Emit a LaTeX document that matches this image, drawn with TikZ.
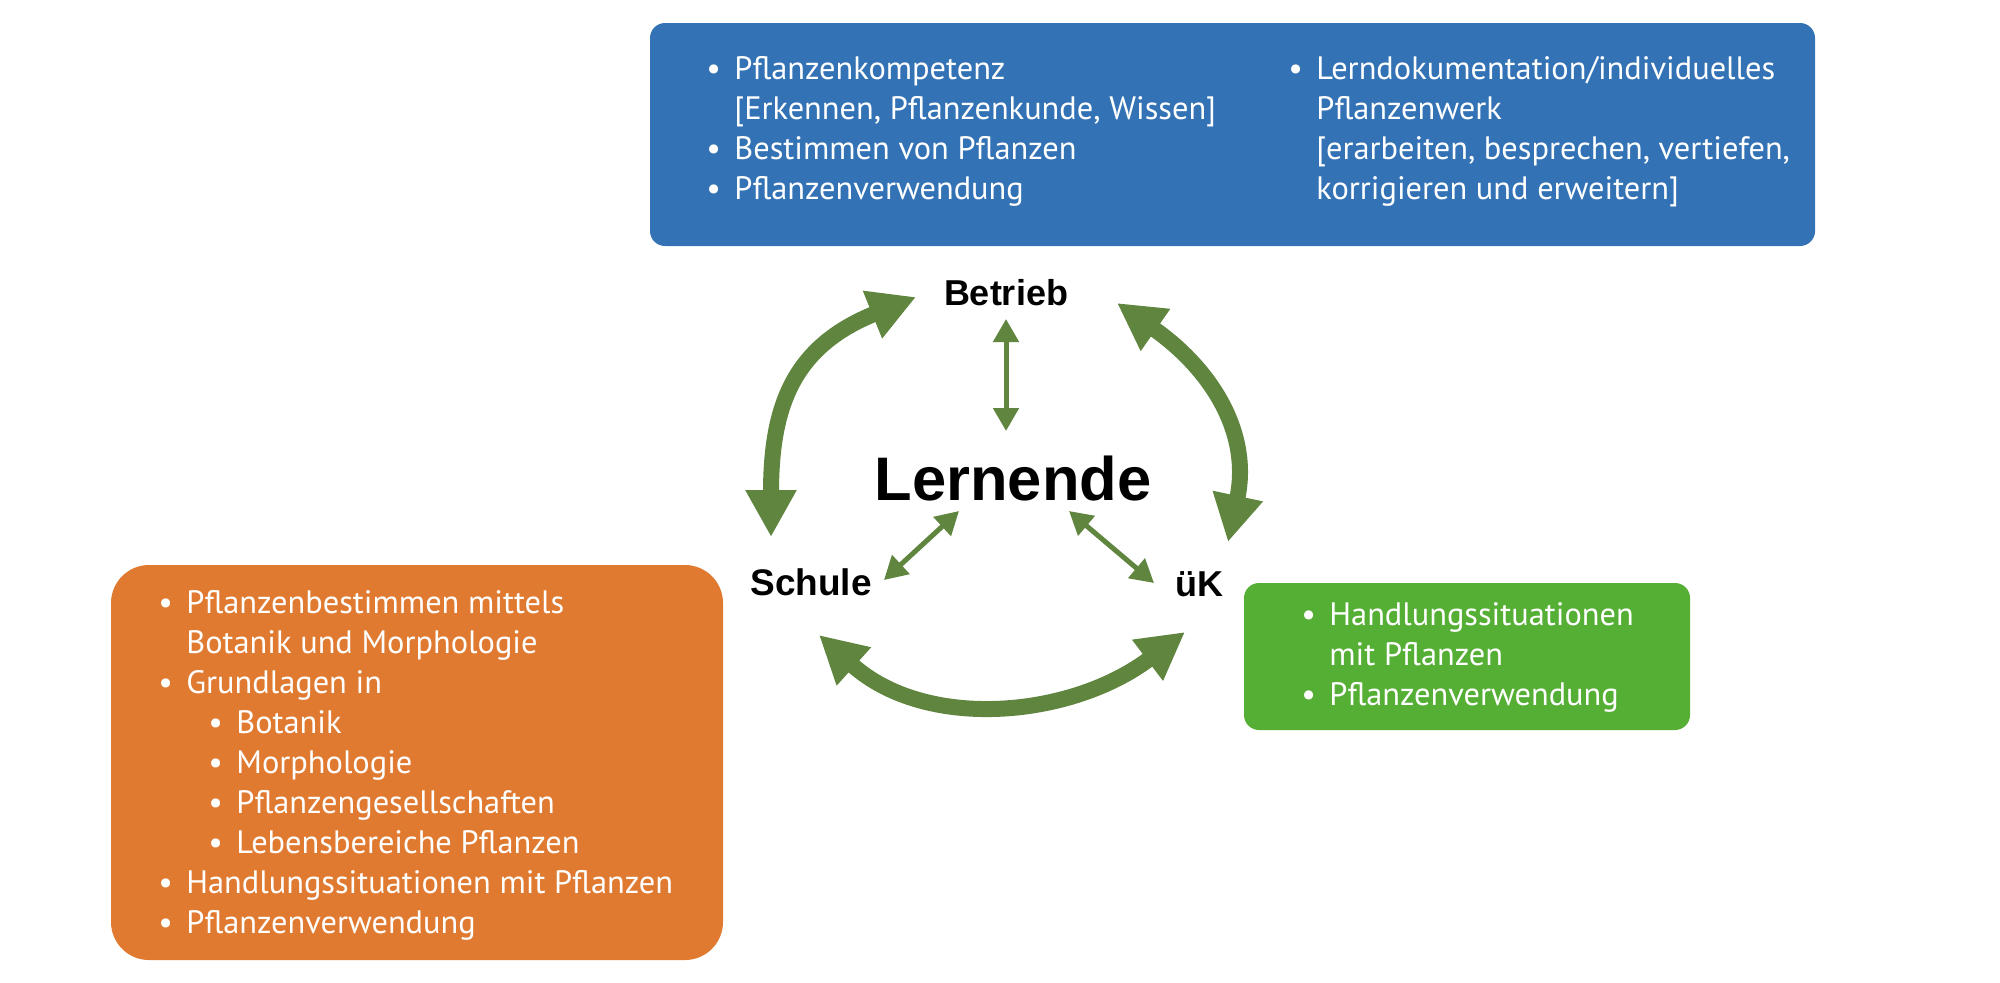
\documentclass[tikz,border=0pt]{standalone}
\usepackage{fontspec}
\setmainfont{PT Sans}
\newfontfamily\lblfont{Liberation Sans}
\usetikzlibrary{arrows.meta}
\definecolor{boxblue}{RGB}{51,115,181}
\definecolor{boxorange}{RGB}{224,122,48}
\definecolor{boxgreen}{RGB}{85,175,53}
\definecolor{arrgreen}{RGB}{95,133,63}
\newcommand{\mybul}{\makebox[14pt][l]{\textbullet}}
\newcommand{\myind}{\hspace*{14pt}}
\begin{document}
\begin{tikzpicture}[x=0.5pt,y=0.5pt,
  listtext/.style={anchor=north west, inner sep=0pt, align=left, text=white, font=\fontsize{16.2}{20}\selectfont},
  lbl/.style={anchor=base, inner sep=0pt, font=\lblfont\bfseries\fontsize{18}{22}\selectfont},
  bigarrow/.style={draw=arrgreen, line width=8pt, {Triangle[length=23.5pt,width=24pt]}-{Triangle[length=23.5pt,width=24pt]}},
  smallarrow/.style={draw=arrgreen, line width=2.5pt, {Triangle[length=11.5pt,width=12.5pt]}-{Triangle[length=11.5pt,width=12.5pt]}}
]
\useasboundingbox (0,0) rectangle (2000,-982);
% panels
\fill[boxblue, rounded corners=7.5pt] (650,-23) rectangle (1815,-246);
\fill[boxorange, rounded corners=19pt] (111,-565) rectangle (723,-960);
\fill[boxgreen, rounded corners=7.5pt] (1244,-583) rectangle (1690,-730);
% panel texts
\node[listtext] (blueL) at (706,-51) {\strut\mybul Pflanzenkompetenz\\
\strut\myind [Erkennen, Pflanzenkunde, Wissen]\\
\strut\mybul Bestimmen von Pflanzen\\
\strut\mybul Pflanzenverwendung};
\node[listtext] (blueR) at (1288,-51) {\strut\mybul Lerndokumentation/individuelles\\
\strut\myind Pflanzenwerk\\
\strut\myind [erarbeiten, besprechen, vertiefen,\\
\strut\myind korrigieren und erweitern]};
\node[listtext] (orange) at (158,-585) {\strut\mybul Pflanzenbestimmen mittels\\
\strut\myind Botanik und Morphologie\\
\strut\mybul Grundlagen in\\
\strut\hspace*{25pt}\mybul Botanik\\
\strut\hspace*{25pt}\mybul Morphologie\\
\strut\hspace*{25pt}\mybul Pflanzengesellschaften\\
\strut\hspace*{25pt}\mybul Lebensbereiche Pflanzen\\
\strut\mybul Handlungssituationen mit Pflanzen\\
\strut\mybul Pflanzenverwendung};
\node[listtext] (green) at (1301,-597) {\strut\mybul Handlungssituationen\\
\strut\myind mit Pflanzen\\
\strut\mybul Pflanzenverwendung};
% labels
\node[lbl] (betrieb) at (1006,-305) {Betrieb};
\node[lbl, font=\lblfont\bfseries\fontsize{30.75}{36}\selectfont] (lernende) at (1013,-500) {Lernende};
\node[lbl, font=\lblfont\bfseries\fontsize{18.5}{22}\selectfont] (schule) at (811,-595) {Schule};
\node[lbl] (uek) at (1199,-596) {üK};
% arrow end points
\coordinate (aLb) at (771,-537);
\coordinate (aLt) at (916,-297);
\coordinate (aRt) at (1117,-303);
\coordinate (aRb) at (1228,-542);
\coordinate (aBl) at (819,-635);
\coordinate (aBr) at (1185,-632);
\coordinate (sVt) at (1006,-319);
\coordinate (sVb) at (1006,-431);
\coordinate (sLs) at (884,-580);
\coordinate (sLl) at (959,-511);
\coordinate (sRu) at (1154,-583);
\coordinate (sRl) at (1069,-511);
% big arrows
\draw[bigarrow] (aLb) to[out=90,in=202,looseness=1.2] (aLt);
\draw[bigarrow] (aRt) to[out=-35,in=78,looseness=1.1] (aRb);
\draw[bigarrow] (aBl) to[out=-42,in=217] (aBr);
% small arrows
\draw[smallarrow] (sVt) -- (sVb);
\draw[smallarrow] (sLs) -- (sLl);
\draw[smallarrow] (sRu) -- (sRl);
\end{tikzpicture}
\end{document}
